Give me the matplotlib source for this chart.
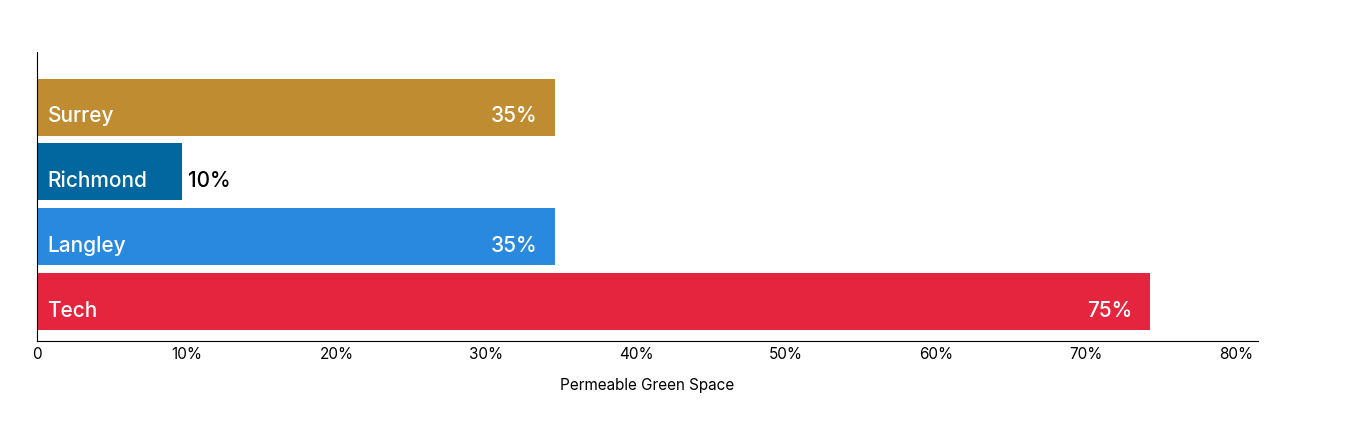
import matplotlib
matplotlib.use("Agg")
import matplotlib.pyplot as plt

categories = ["Surrey", "Richmond", "Langley", "Tech"]
values = [34.6, 9.7, 34.6, 74.3]
value_labels = ["35%", "10%", "35%", "75%"]
colors = ["#C08C32", "#01679E", "#2889DF", "#E4253D"]
xticks = [0, 10, 20, 30, 40, 50, 60, 70, 80]
xticklabels = ["0", "10%", "20%", "30%", "40%", "50%", "60%", "70%", "80%"]

plt.rcParams['font.family'] = ['Inter', 'DejaVu Sans']
fig = plt.figure(figsize=(13.5, 4.44), dpi=100)
ax = fig.add_axes([0.0274, 0.232, 0.932 - 0.0274, 0.883 - 0.232])
ys = list(range(len(categories)))
ax.barh(ys, values, height=0.88, color=colors)
for y, v, c, lab in zip(ys, values, categories, value_labels):
    ax.text(0.7, y + 0.3, c, color="white", fontsize=15, va="bottom", ha="left", fontweight="medium")
    if v > 20:
        ax.text(v - 1.2, y + 0.3, lab, color="white", fontsize=15, va="bottom", ha="right", fontweight="medium")
    else:
        ax.text(v + 0.4, y + 0.3, lab, color="black", fontsize=15, va="bottom", ha="left", fontweight="medium")
ax.set_ylim(3.61, -0.85)
ax.set_xlim(0, 81.5)
ax.set_xticks(xticks)
ax.set_xticklabels(xticklabels, fontsize=11)
ax.tick_params(axis="x", length=0, pad=4)
ax.set_yticks([])
for s in ["top", "right"]:
    ax.spines[s].set_visible(False)
ax.set_xlabel("Permeable Green Space", fontsize=11, labelpad=12)
fig.savefig("out.png", dpi=100)
